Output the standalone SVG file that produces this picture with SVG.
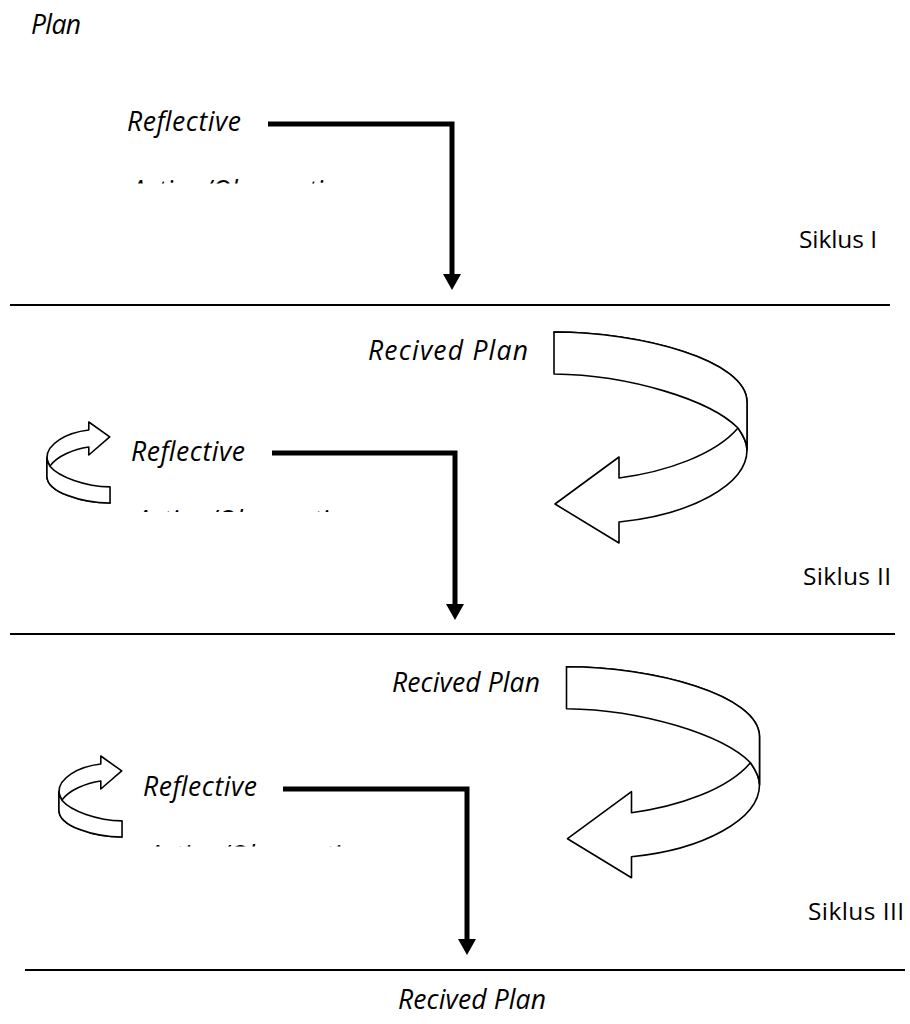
<svg xmlns="http://www.w3.org/2000/svg" width="910" height="1024" viewBox="0 0 910 1024">
<style>
.it{font-family:"Open Sans","Liberation Sans",sans-serif;font-style:italic;font-size:26.5px;fill:#000}
.rg{font-family:"Open Sans","Liberation Sans",sans-serif;font-size:24.5px;fill:#000}
.sep{stroke:#000;stroke-width:2;fill:none}
.conn{stroke:#000;stroke-width:5;fill:none;stroke-linejoin:miter}
.rib{fill:#fff;stroke:#000;stroke-width:1.6;stroke-linejoin:round}
</style>
<defs>
<marker id="ah" markerUnits="userSpaceOnUse" markerWidth="16" markerHeight="18" refX="2" refY="9" orient="auto" viewBox="0 0 16 18">
<path d="M0,0 L16,9 L0,18 z" fill="#000"/>
</marker>
<clipPath id="c1"><rect x="100" y="170" width="300" height="13.5"/></clipPath>
<clipPath id="c2"><rect x="100" y="500" width="300" height="12"/></clipPath>
<clipPath id="c3"><rect x="100" y="835" width="300" height="11.5"/></clipPath>
<g id="bigarrow">
<path class="rib" d="M554,332 C640,332 747,360 747,402 L747,450 C747,485 690,515 619,522 L619,543 L555,504 L619,457 L619,478 C665,472 715,455 738,428 C743,435 747,442 747,450 L747,402 C747,360 640,332 554,332 z"/>
<path class="rib" d="M554,332 C640,332 747,360 747,402 L747,450 C747,442 743,435 738,428 C710,400 630,375 554,374 z"/>
</g>
</defs>

<g id="labels">
<text class="it" x="31" y="34" textLength="50" lengthAdjust="spacing">Plan</text>
<text class="rg" x="799" y="248" textLength="78" lengthAdjust="spacing">Siklus I</text>
<text class="rg" x="803" y="585" textLength="88" lengthAdjust="spacing">Siklus II</text>
<text class="rg" x="808" y="920" textLength="96" lengthAdjust="spacing">Siklus III</text>
</g>

<g id="separators">
<line class="sep" x1="10" y1="305" x2="890" y2="305"/>
<line class="sep" x1="10" y1="634" x2="895" y2="634"/>
<line class="sep" x1="25" y1="970" x2="905" y2="970"/>
</g>

<g id="cycle1">
<text id="reflective1" class="it" x="127" y="131" textLength="114" lengthAdjust="spacing">Reflective</text>
<text id="action1" class="it" x="131" y="200" textLength="222" lengthAdjust="spacing" clip-path="url(#c1)">Action/Observation</text>
</g>

<g id="cycle2">
<text id="recived2" class="it" x="368" y="360" textLength="160" lengthAdjust="spacing">Recived Plan</text>
<use id="big2" href="#bigarrow"/>
<g id="small2" transform="translate(291.2,630.5) scale(-0.327,-0.384)">
<path class="rib" vector-effect="non-scaling-stroke" d="M554,332 C640,332 747,360 747,402 L747,450 C747,485 690,515 619,522 L619,543 L555,504 L619,457 L619,478 C665,472 715,455 738,428 C743,435 747,442 747,450 L747,402 C747,360 640,332 554,332 z"/>
<path class="rib" vector-effect="non-scaling-stroke" d="M554,332 C640,332 747,360 747,402 L747,450 C747,442 743,435 738,428 C710,400 630,375 554,374 z"/>
</g>
<text id="reflective2" class="it" x="131" y="461" textLength="114" lengthAdjust="spacing">Reflective</text>
<text id="action2" class="it" x="136" y="530" textLength="222" lengthAdjust="spacing" clip-path="url(#c2)">Action/Observation</text>
</g>

<g id="cycle3">
<text id="recived3" class="it" x="392" y="692" textLength="148" lengthAdjust="spacing">Recived Plan</text>
<use id="big3" href="#bigarrow" transform="translate(12.5,334.7)"/>
<g id="small3" transform="translate(303.2,964.5) scale(-0.327,-0.384)">
<path class="rib" vector-effect="non-scaling-stroke" d="M554,332 C640,332 747,360 747,402 L747,450 C747,485 690,515 619,522 L619,543 L555,504 L619,457 L619,478 C665,472 715,455 738,428 C743,435 747,442 747,450 L747,402 C747,360 640,332 554,332 z"/>
<path class="rib" vector-effect="non-scaling-stroke" d="M554,332 C640,332 747,360 747,402 L747,450 C747,442 743,435 738,428 C710,400 630,375 554,374 z"/>
</g>
<text id="reflective3" class="it" x="143" y="796" textLength="114" lengthAdjust="spacing">Reflective</text>
<text id="action3" class="it" x="148" y="865" textLength="222" lengthAdjust="spacing" clip-path="url(#c3)">Action/Observation</text>
</g>

<g id="final">
<text id="recived4" class="it" x="398" y="1009" textLength="148" lengthAdjust="spacing">Recived Plan</text>
</g>

<g id="connectors">
<path class="conn" d="M268,124 H452 V276" marker-end="url(#ah)"/>
<path class="conn" d="M272,453 H455 V606" marker-end="url(#ah)"/>
<path class="conn" d="M283,789 H467 V941" marker-end="url(#ah)"/>
</g>
</svg>
